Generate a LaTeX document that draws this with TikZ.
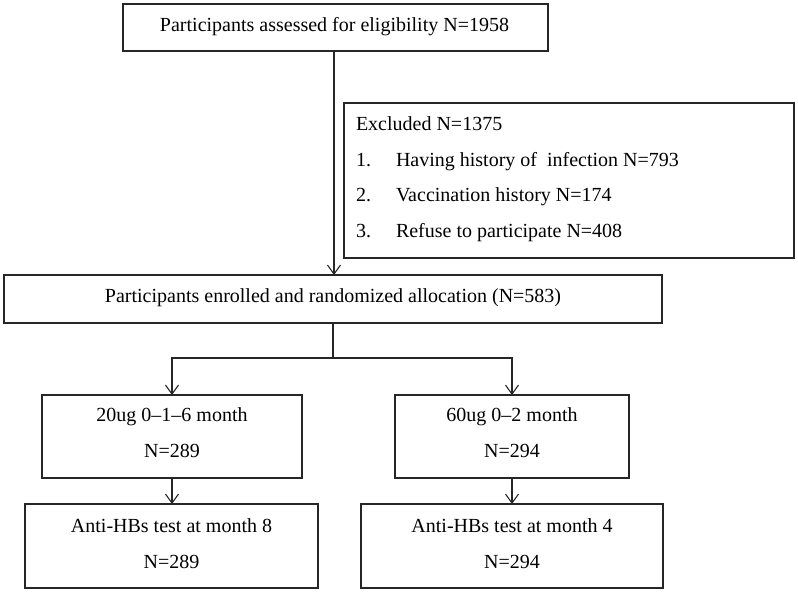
\documentclass[tikz,border=0pt]{standalone}
\usepackage{fontspec}
\setmainfont{Liberation Serif}
\usetikzlibrary{arrows.meta}
\begin{document}
\begin{tikzpicture}[x=1pt,y=-1pt,
  box/.style={draw=black!85,line width=1.3pt,inner sep=0pt,outer sep=0pt},
  txt/.style={inner sep=0pt,outer sep=0pt,anchor=base,font=\fontsize{20}{24}\selectfont},
  ltxt/.style={txt,anchor=base west},
  conn/.style={draw=black!85,line width=1.2pt},
  arr/.style={conn,-{Straight Barb[length=9pt,width=13pt,line width=1.1pt]}}]
\useasboundingbox (0,0) rectangle (798,597);
% boxes
\node[box,minimum width=425pt,minimum height=47pt] (top) at (335.5,27.5) {};
\node[box,minimum width=450pt,minimum height=155pt] (excl) at (569,180.5) {};
\node[box,minimum width=658pt,minimum height=48pt] (enr) at (333,299) {};
\node[box,minimum width=260pt,minimum height=83pt] (g1) at (172,436.5) {};
\node[box,minimum width=234pt,minimum height=83pt] (g2) at (512,436.5) {};
\node[box,minimum width=293pt,minimum height=84pt] (t1) at (171.5,546) {};
\node[box,minimum width=302pt,minimum height=84pt] (t2) at (512,546) {};
% texts
\node[txt] (toptxt) at (334.5,31.7) {Participants assessed for eligibility N=1958};
\node[ltxt] (exh) at (356,130) {Excluded N=1375};
\node[ltxt] (ex1n) at (356,166) {1.};
\node[ltxt] (ex1) at (396,166) {Having history of\ \ infection N=793};
\node[ltxt] (ex2n) at (356,201.7) {2.};
\node[ltxt] (ex2) at (396,201.7) {Vaccination history N=174};
\node[ltxt] (ex3n) at (356,237.7) {3.};
\node[ltxt] (ex3) at (396,237.7) {Refuse to participate N=408};
\node[txt] (enrtxt) at (333,302.7) {Participants enrolled and randomized allocation (N=583)};
\node[txt] (g1a) at (172,421.7) {20ug 0–1–6 month};
\node[txt] (g1b) at (172,457.3) {N=289};
\node[txt] (g2a) at (512,421.7) {60ug 0–2 month};
\node[txt] (g2b) at (512,457.3) {N=294};
\node[txt] (t1a) at (171.5,532.7) {Anti-HBs test at month 8};
\node[txt] (t1b) at (171.5,568.3) {N=289};
\node[txt] (t2a) at (512,532.7) {Anti-HBs test at month 4};
\node[txt] (t2b) at (512,568.3) {N=294};
% connectors
\draw[arr] (top.south -| 334,0) -- (enr.north -| 334,0);
\coordinate (br) at (333,358);
\draw[conn] (enr.south -| br) -- (br);
\draw[arr] (br) -| (g1.north);
\draw[arr] (br) -| (g2.north);
\draw[arr] (g1.south) -- (g1.south |- t1.north);
\draw[arr] (g2.south) -- (g2.south |- t2.north);
\end{tikzpicture}
\end{document}
